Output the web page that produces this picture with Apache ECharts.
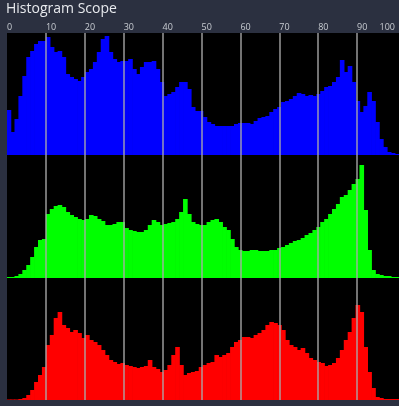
<!DOCTYPE html>
<html>
<head>
<meta charset="utf-8">
<script src="https://cdn.jsdelivr.net/npm/echarts@6/dist/echarts.min.js"></script>
<style>
html,body{margin:0;padding:0;background:#2b3040;}
#chart{width:399px;height:406px;}
</style>
</head>
<body>
<div id="chart"></div>
<script>
// Histogram bins (1 unit each, 0..99)
const bins = Array.from({length: 100}, (_, i) => i);
// Tick labels for the 0-100 scale
const tickLabels = ['0','10','20','30','40','50','60','70','80','90','100'];

// Blue channel (bar heights)
const blueValues = [
 45,23,36,59,79,98,104,111,114,114,
 118,108,103,104,98,81,78,76,74,78,
 83,86,93,103,116,119,103,96,93,94,
 94,96,86,81,88,93,93,94,86,73,
 59,61,63,68,73,73,66,48,44,44,
 38,33,31,29,29,29,29,29,31,32,
 32,32,31,34,37,38,39,43,46,48,
 53,54,56,59,62,61,59,60,59,61,
 64,68,69,73,78,95,83,89,73,54,
 43,49,63,54,33,16,8,3,2,1
];
// Green channel
const greenValues = [
 1,1,2,4,8,13,21,31,38,39,
 64,69,72,73,71,66,63,61,59,58,
 59,63,62,59,57,53,53,54,56,56,
 50,48,47,46,46,48,53,58,56,53,
 54,55,56,59,66,79,64,56,54,53,
 53,56,58,59,56,51,48,39,31,28,
 27,27,28,28,27,27,27,28,28,30,
 31,33,35,37,38,40,43,45,48,51,
 56,59,64,69,74,81,83,88,94,99,
 113,68,28,8,4,3,2,2,1,1
];
// Red channel
const redValues = [
 0.5,0.5,0.5,1,2,5,10,18,25,33,
 55,65,82,88,75,72,68,70,67,62,
 65,60,58,55,50,45,40,38,36,37,
 35,34,33,32,33,34,40,33,31,28,
 30,35,45,53,35,25,27,28,29,33,
 35,37,38,45,43,45,47,53,58,60,
 63,63,62,65,67,70,75,78,77,75,
 70,60,55,53,50,52,47,42,40,38,
 37,34,35,37,42,50,60,68,82,95,
 88,53,28,12,3,2,1,1,1,1
];

const chart = echarts.init(document.getElementById('chart'), null, {renderer: 'canvas'});

const panelTops = [33, 155, 278];
const panelHeights = [122, 123, 122];
const panelData = [blueValues, greenValues, redValues];
const panelColors = ['#0000ff', '#00ff00', '#ff0000'];

const grids = [];
const xAxes = [];
const yAxes = [];
const series = [];
for (let p = 0; p < 3; p++) {
  grids.push({left: 7, width: 393, top: panelTops[p], height: panelHeights[p],
    show: true, backgroundColor: '#000', borderWidth: 0});
  xAxes.push({type: 'category', gridIndex: p, data: bins, show: false, boundaryGap: true});
  yAxes.push({type: 'value', gridIndex: p, min: 0, max: panelHeights[p], show: false});
  series.push({type: 'bar', xAxisIndex: p, yAxisIndex: p, data: panelData[p],
    barWidth: '118%', silent: true,
    itemStyle: {color: panelColors[p], borderWidth: 0}});
}
// overlay grid for the scale and vertical lines
grids.push({left: 7, width: 393, top: 33, height: 367, show: false});
xAxes.push({type: 'value', gridIndex: 3, position: 'top', min: 0, max: 100, interval: 10, z: 10,
  axisLine: {show: false}, axisTick: {show: false},
  splitLine: {show: true, showMinLine: false, showMaxLine: false,
    lineStyle: {color: 'rgba(170,170,170,0.68)', width: 2}},
  axisLabel: {margin: 1, fontSize: 9, color: '#c8ccd2', align: 'left', fontFamily: 'Open Sans',
    formatter: v => (v >= 100 ? '' : tickLabels[Math.round(v / 10)])}});
xAxes.push({type: 'value', gridIndex: 3, position: 'top', min: 0, max: 100, interval: 100, z: 10,
  axisLine: {show: false}, axisTick: {show: false}, splitLine: {show: false},
  axisLabel: {margin: 1, fontSize: 9, color: '#c8ccd2', align: 'right', fontFamily: 'Open Sans',
    padding: [0, 1, 0, 0],
    formatter: v => (v >= 100 ? tickLabels[10] : '')}});
yAxes.push({type: 'value', gridIndex: 3, min: 0, max: 1, show: false});

chart.setOption({
  backgroundColor: '#2b3040',
  animation: false,
  title: {text: 'Histogram Scope', left: 6, top: 2, padding: 0,
    textStyle: {fontSize: 14, fontWeight: 'normal', color: '#e8eaee', fontFamily: 'Open Sans'}},
  grid: grids,
  xAxis: xAxes,
  yAxis: yAxes,
  series: series
});
</script>
</body>
</html>
